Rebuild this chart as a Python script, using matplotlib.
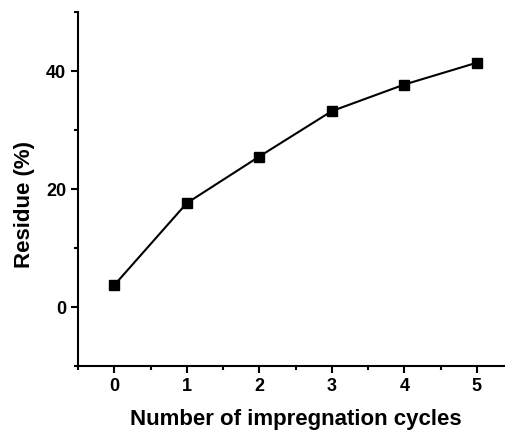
import numpy as np
import matplotlib.pyplot as plt
from matplotlib.ticker import MultipleLocator

plt.rcParams['font.family'] = ['Liberation Sans', 'DejaVu Sans']
plt.rcParams['font.weight'] = 'bold'

cycles = [0, 1, 2, 3, 4, 5]
residue = [3.7, 17.6, 25.5, 33.2, 37.7, 41.4]

fig = plt.figure(figsize=(5.05, 4.34), dpi=100)
ax = fig.add_axes([78/505, 1 - 366/434, 435/505, (366-12)/434])

ax.plot(cycles, residue, color='black', linewidth=1.5, marker='s',
        markersize=7.5, markerfacecolor='black', markeredgecolor='black')

ax.set_xlim(-0.5, 5.5)
ax.set_ylim(-10, 50)
ax.xaxis.set_major_locator(MultipleLocator(1))
ax.xaxis.set_minor_locator(MultipleLocator(0.5))
ax.yaxis.set_major_locator(MultipleLocator(20))
ax.yaxis.set_minor_locator(MultipleLocator(10))

for s in ['top', 'right']:
    ax.spines[s].set_visible(False)
for s in ['left', 'bottom']:
    ax.spines[s].set_linewidth(1.5)

ax.tick_params(which='major', direction='out', length=5, width=1.5, labelsize=13)
ax.tick_params(which='minor', direction='out', length=3, width=1.5)

ax.set_xlabel('Number of impregnation cycles', fontsize=16, fontweight='bold', va='center')
ax.set_ylabel('Residue (%)', fontsize=16, fontweight='bold', va='center')
ax.xaxis.set_label_coords(0.5, -0.15)
ax.yaxis.set_label_coords(-0.124, 0.455)

fig.savefig('out.png', dpi=100)
